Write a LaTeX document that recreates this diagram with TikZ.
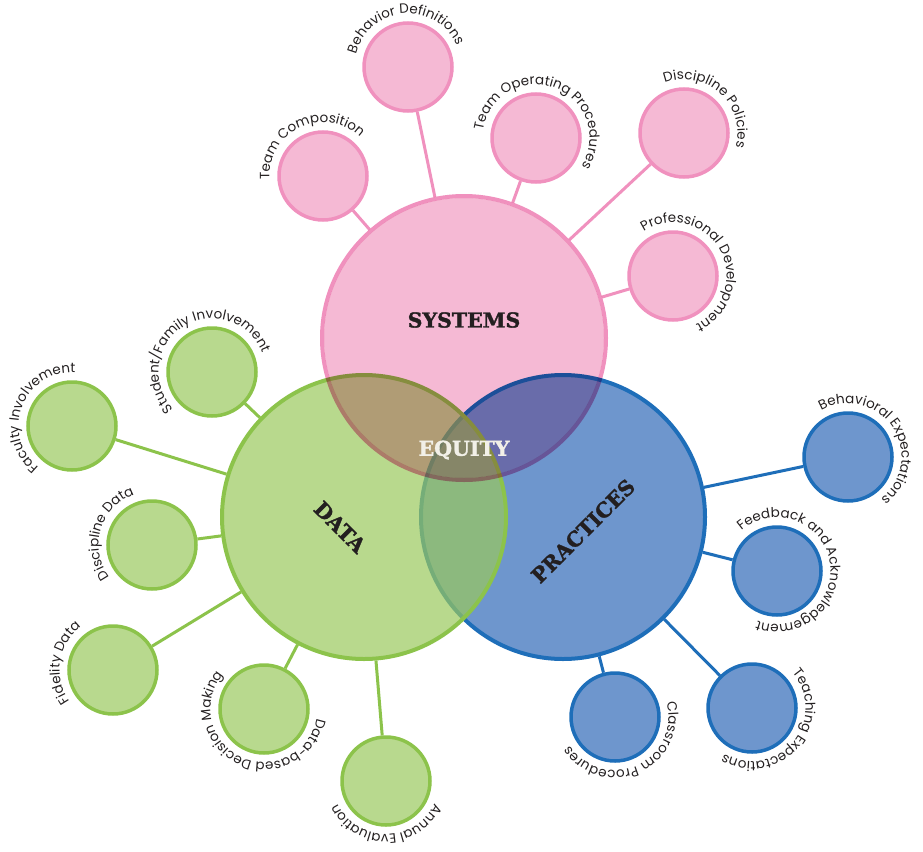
\documentclass[tikz,border=0pt]{standalone}
\usepackage{fontspec}
\newfontfamily\lblfont{Poppins}
\newfontfamily\ttlfont[BoldFeatures={FakeBold=1.6}]{DejaVu Serif}
\usetikzlibrary{decorations.text, backgrounds}
\definecolor{pink_fill}{RGB}{245, 185, 212}
\definecolor{pink_line}{RGB}{240, 145, 190}
\definecolor{green_fill}{RGB}{184, 217, 142}
\definecolor{green_base}{RGB}{154, 201, 93}
\definecolor{green_line}{RGB}{140, 195, 75}
\definecolor{blue_fill}{RGB}{110, 150, 205}
\definecolor{blue_line}{RGB}{30, 110, 185}
\definecolor{title_ink}{RGB}{35, 31, 32}
\definecolor{equity_ink}{RGB}{242, 240, 232}
\newcommand\leaflabel[3]{%
    \path[decorate, decoration={text along path, text align=center,
        text color=title_ink,
        text={|\lblfont\fontsize{13.5}{15}\selectfont|#3}}]
        (#1) ++(#2+140:53.5) arc[start angle=#2+140, end angle=#2-140, radius=53.5];
}

\begin{document}
\begin{tikzpicture}[
    x=1pt, y=1pt,
    hub/.style={
        circle,
        draw=#1_line,
        fill=#1_fill,
        line width=4pt,
        minimum size=284pt,
        inner sep=0pt
    },
    leaf/.style={
        circle,
        draw=#1_line,
        fill=#1_fill,
        line width=3.5pt,
        minimum size=88pt,
        inner sep=0pt
    },
    link/.style={
        line width=3pt,
        draw=#1_line
    },
    title/.style={
        font=\ttlfont\bfseries\fontsize{20.5}{24}\selectfont,
        text=title_ink,
        inner sep=0pt
    },
]
\useasboundingbox (0,0) rectangle (923,-851);

% three main circles
\node[hub=blue] (practices) at (563,-517) {};
\node[hub=green, fill=green_base, fill opacity=0.7] (data) at (364,-517) {};
\node[hub=pink, draw=none, fill=none] (systems) at (464,-338) {};
\begin{scope}[blend mode=multiply]
\fill[pink_fill] (systems) circle[radius=140];
\draw[pink_line, line width=4pt] (systems) circle[radius=142];
\end{scope}

% systems leaves
\node[leaf=pink] (team_comp) at (323,-176) {};
\node[leaf=pink] (behav_def) at (408,-67) {};
\node[leaf=pink] (team_ops) at (536,-138) {};
\node[leaf=pink] (disc_pol) at (684,-133) {};
\node[leaf=pink] (prof_dev) at (673,-276) {};

% data leaves
\node[leaf=green] (stud_fam) at (212,-372) {};
\node[leaf=green] (faculty) at (72,-426) {};
\node[leaf=green] (disc_data) at (152,-545) {};
\node[leaf=green] (fidelity) at (113,-670) {};
\node[leaf=green] (decision) at (264,-709) {};
\node[leaf=green] (annual) at (386,-781) {};

% practices leaves
\node[leaf=blue] (behav_exp) at (848,-457) {};
\node[leaf=blue] (feedback) at (777,-571) {};
\node[leaf=blue] (teaching) at (752,-708) {};
\node[leaf=blue] (classroom) at (615,-717) {};

% spokes
\begin{scope}[on background layer]
\foreach \leaf in {team_comp, behav_def, team_ops, disc_pol, prof_dev}
    \draw[link=pink] (\leaf) -- (systems);
\foreach \leaf in {stud_fam, faculty, disc_data, fidelity, decision, annual}
    \draw[link=green] (\leaf) -- (data);
\foreach \leaf in {behav_exp, feedback, teaching, classroom}
    \draw[link=blue] (\leaf) -- (practices);
\end{scope}

% curved labels
\leaflabel{team_comp}{115}{Team Composition}
\leaflabel{behav_def}{95}{Behavior Definitions}
\leaflabel{team_ops}{70}{Team Operating Procedures}
\leaflabel{disc_pol}{48}{Discipline Policies}
\leaflabel{prof_dev}{29}{Professional Development}
\leaflabel{stud_fam}{122}{Student/Family Involvement}
\leaflabel{faculty}{159}{Faculty Involvement}
\leaflabel{disc_data}{163}{Discipline Data}
\leaflabel{fidelity}{171}{Fidelity Data}
\leaflabel{decision}{-115}{Data-based Decision Making}
\leaflabel{annual}{-90}{Annual Evaluation}
\leaflabel{behav_exp}{34}{Behavioral Expectations}
\leaflabel{feedback}{10}{Feedback and Acknowledgement}
\leaflabel{teaching}{-40}{Teaching Expectations}
\leaflabel{classroom}{-66}{Classroom Procedures}

% titles
\node[title] (systems_t) at (464,-320) {SYSTEMS};
\node[title, rotate=-45] (data_t) at (340,-527) {DATA};
\node[title, rotate=45] (practices_t) at (583,-531) {PRACTICES};
\node[title, text=equity_ink] (equity_t) at (464,-450) {EQUITY};
\end{tikzpicture}
\end{document}
